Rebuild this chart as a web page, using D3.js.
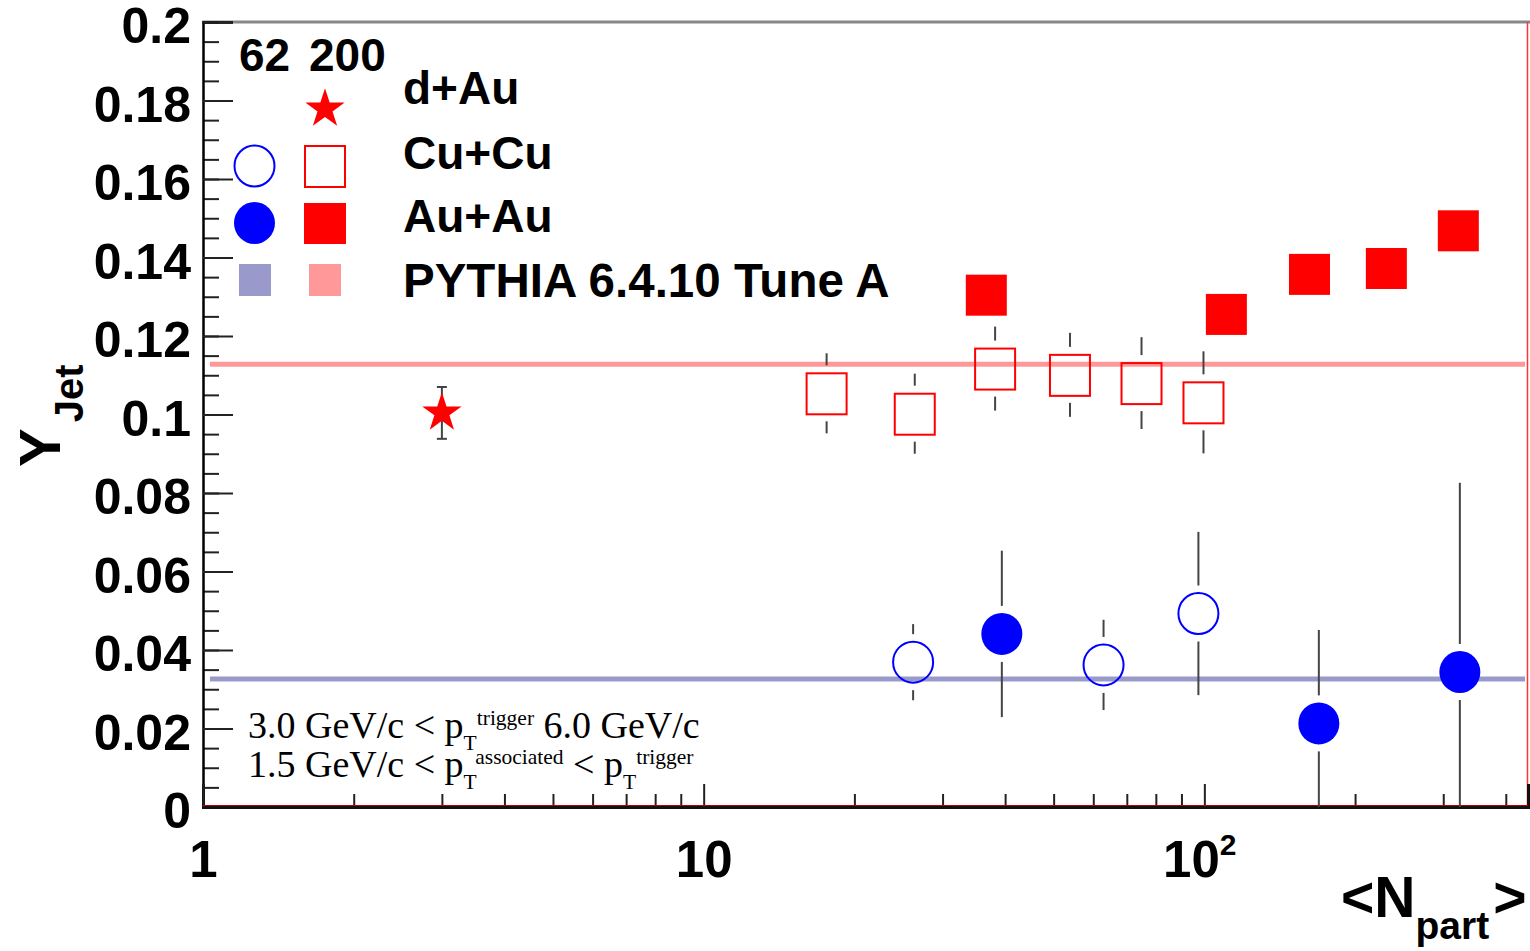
<!DOCTYPE html>
<html>
<head>
<meta charset="utf-8">
<script src="https://cdn.jsdelivr.net/npm/d3@7"></script>
<style>
  body { margin: 0; background: #fff; }
  svg { display: block; }
  text { font-family: "Liberation Sans", Arial, Helvetica, sans-serif; }
  text.serif { font-family: "Liberation Serif", "Times New Roman", serif; }
</style>
</head>
<body>
<div id="chart-area"></div>
<script>
// data: <Npart> vs Y_Jet
let cuX62 = [26.2, 62.9, 97.3]
let cuY62 = [0.0369, 0.0362, 0.0493]
let cuE62 = [0.0097, 0.0115, 0.0208]

let auX62 = [39.4, 169.3, 323.8]
let auY62 = [0.0441, 0.0213, 0.0344]
let auE62 = [0.0212, 0.0238, 0.0482]

let cuX200 = [17.6, 26.4, 38.2, 53.9, 74.9, 99.6]
let cuY200 = [0.1054, 0.1002, 0.1117, 0.1101, 0.1080, 0.1031]
let cuE200 = [0.0102, 0.0102, 0.0107, 0.0107, 0.0117, 0.0130]

let auX200 = [36.6, 110.4, 161.8, 230.4, 320.8]
let auY200 = [0.1304, 0.1255, 0.1357, 0.1372, 0.1468]

let dauX200 = [3.0]
let dauY200 = [0.1004]
let dauE200 = [0.0066]

let pythia62 = 0.0326
let pythia200 = 0.1128

let yMajor = [0, 0.02, 0.04, 0.06, 0.08, 0.1, 0.12, 0.14, 0.16, 0.18, 0.2]
let yLabels = ["0", "0.02", "0.04", "0.06", "0.08", "0.1", "0.12", "0.14", "0.16", "0.18", "0.2"]
let xMajor = [1, 10, 100]
let xLabels = ["1", "10", "10^2"]

let width = 1530
let height = 951

let svg = d3.select("#chart-area")
  .append("svg")
    .attr("width", width)
    .attr("height", height)

let x = d3.scaleLog().domain([1, 443]).range([203, 1528])
let y = d3.scaleLinear().domain([0, 0.2]).range([807, 22])

let blue = "#0000ff"
let red = "#ff0000"
let barColor = "#444"

// frame
svg.append("line")
  .attr("x1", 202).attr("x2", 1530).attr("y1", y(0.2)).attr("y2", y(0.2))
  .attr("stroke", "#888").attr("stroke-width", 3)
svg.append("line")
  .attr("x1", x(443) - 0.5).attr("x2", x(443) - 0.5).attr("y1", y(0.2)).attr("y2", y(0))
  .attr("stroke", "#f33").attr("stroke-width", 1.5)

// minor ticks
let yMinor = d3.range(0, 0.2001, 0.005)
svg.append("g")
  .attr("transform", "translate(" + x(1) + ",0)")
  .call(d3.axisLeft(y).tickValues(yMinor).tickSize(-16).tickFormat(""))
  .call(g => g.select(".domain").remove())
  .selectAll("line").attr("stroke", "#222").attr("stroke-width", 2)

let xMinor = []
for (let d = 1; d <= 100; d *= 10)
  for (let k = 2; k <= 9; k++) if (d * k <= 443) xMinor.push(d * k)
svg.append("g")
  .attr("transform", "translate(0," + y(0) + ")")
  .call(d3.axisBottom(x).tickValues(xMinor).tickSize(-13).tickFormat(""))
  .call(g => g.select(".domain").remove())
  .selectAll("line").attr("stroke", "#222").attr("stroke-width", 2)

// left axis
let leftAxis = d3.axisLeft(y).tickValues(yMajor).tickSize(-30).tickPadding(12)
  .tickFormat((d, i) => yLabels[i])
svg.append("g")
  .attr("class", "left axis")
  .attr("transform", "translate(" + x(1) + ",0)")
  .call(leftAxis)
  .call(g => g.select(".domain").attr("stroke", "#000").attr("stroke-width", 2.5))
  .call(g => g.selectAll("line").attr("stroke", "#222").attr("stroke-width", 2))
  .selectAll("text")
    .attr("font-size", "50px").attr("font-weight", "bold").attr("fill", "#000")
    .attr("dy", "0.41em")

// bottom axis
let bottomAxis = d3.axisBottom(x).tickValues(xMajor).tickSize(-23).tickPadding(34).tickFormat("")
let bx = svg.append("g")
  .attr("class", "bottom axis")
  .attr("transform", "translate(0," + y(0) + ")")
  .call(bottomAxis)
bx.select(".domain").attr("stroke", "#111").attr("stroke-width", 3)
bx.selectAll("line").attr("stroke", "#222").attr("stroke-width", 2)
bx.selectAll(".tick text")
  .attr("font-size", "51px").attr("font-weight", "bold").attr("fill", "#000")
  .each(function(d, i) {
    let t = d3.select(this)
    let parts = xLabels[i].split("^")
    t.append("tspan").text(parts[0])
    if (parts[1]) {
      t.attr("dx", "-0.1em")
      t.append("tspan").attr("font-size", "30px").attr("dy", "-22").text(parts[1])
    }
  })
svg.append("line")
  .attr("x1", x(1)).attr("x2", x(443)).attr("y1", y(0) - 1.5).attr("y2", y(0) - 1.5)
  .attr("stroke", "#b00").attr("stroke-width", 1.2)

// pythia lines
svg.append("line")
  .attr("x1", x(1) + 7).attr("x2", x(443) - 3).attr("y1", y(pythia200)).attr("y2", y(pythia200))
  .attr("stroke", "#ff9999").attr("stroke-width", 5)
svg.append("line")
  .attr("x1", x(1) + 7).attr("x2", x(443) - 3).attr("y1", y(pythia62)).attr("y2", y(pythia62))
  .attr("stroke", "#9999cc").attr("stroke-width", 5)

// error bars with a gap around the marker
function errBars(xs, ys, es, gap) {
  let g = svg.append("g")
  xs.forEach((xv, i) => {
    let cx = x(xv), cy = y(ys[i])
    let top = Math.max(y(ys[i] + es[i]), y(0.2))
    let bot = Math.min(y(ys[i] - es[i]), y(0))
    if (cy - gap > top)
      g.append("line").attr("x1", cx).attr("x2", cx).attr("y1", top).attr("y2", cy - gap)
        .attr("stroke", barColor).attr("stroke-width", 2)
    if (cy + gap < bot)
      g.append("line").attr("x1", cx).attr("x2", cx).attr("y1", cy + gap).attr("y2", bot)
        .attr("stroke", barColor).attr("stroke-width", 2)
  })
}

errBars(cuX200, cuY200, cuE200, 28)
errBars(cuX62, cuY62, cuE62, 28)
errBars(auX62, auY62, auE62, 28)

// d+Au star with capped bar
dauX200.forEach((xv, i) => {
  let cx = x(xv)
  let t = y(dauY200[i] + dauE200[i]), b = y(dauY200[i] - dauE200[i])
  svg.append("line").attr("x1", cx).attr("x2", cx).attr("y1", t).attr("y2", b)
    .attr("stroke", barColor).attr("stroke-width", 2)
  svg.append("line").attr("x1", cx - 5).attr("x2", cx + 5).attr("y1", t).attr("y2", t)
    .attr("stroke", barColor).attr("stroke-width", 2)
  svg.append("line").attr("x1", cx - 5).attr("x2", cx + 5).attr("y1", b).attr("y2", b)
    .attr("stroke", barColor).attr("stroke-width", 2)
})

let star = d3.symbol().type(d3.symbolStar).size(480)

svg.selectAll(".dau").data(dauX200).enter()
  .append("path")
    .attr("transform", (d, i) => "translate(" + x(d) + "," + y(dauY200[i]) + ")")
    .attr("d", star)
    .attr("fill", red)

svg.selectAll(".cu200").data(cuX200).enter()
  .append("rect")
    .attr("x", d => x(d) - 20)
    .attr("y", (d, i) => y(cuY200[i]) - 20)
    .attr("width", 40).attr("height", 41)
    .attr("fill", "none").attr("stroke", red).attr("stroke-width", 2)

svg.selectAll(".au200").data(auX200).enter()
  .append("rect")
    .attr("x", d => x(d) - 20)
    .attr("y", (d, i) => y(auY200[i]) - 20.5)
    .attr("width", 41).attr("height", 41)
    .attr("fill", red)

svg.selectAll(".cu62").data(cuX62).enter()
  .append("ellipse")
    .attr("cx", d => x(d))
    .attr("cy", (d, i) => y(cuY62[i]))
    .attr("rx", 20).attr("ry", 20.5)
    .attr("fill", "none").attr("stroke", blue).attr("stroke-width", 2)

svg.selectAll(".au62").data(auX62).enter()
  .append("ellipse")
    .attr("cx", d => x(d))
    .attr("cy", (d, i) => y(auY62[i]))
    .attr("rx", 20.5).attr("ry", 21)
    .attr("fill", blue)

// legend
let leg = svg.append("g").attr("font-weight", "bold").attr("font-size", "46px").attr("fill", "#000")
leg.append("text").attr("x", 239).attr("y", 71).text("62")
leg.append("text").attr("x", 309).attr("y", 71).text("200")
leg.append("text").attr("x", 403).attr("y", 104).text("d+Au")
leg.append("text").attr("x", 403).attr("y", 169).text("Cu+Cu")
leg.append("text").attr("x", 403).attr("y", 232).text("Au+Au")
leg.append("text").attr("x", 403).attr("y", 297).attr("font-size", "47.5px").text("PYTHIA 6.4.10 Tune A")

svg.append("path").attr("transform", "translate(325,109)").attr("d", star).attr("fill", red)
svg.append("ellipse").attr("cx", 254.5).attr("cy", 166).attr("rx", 20).attr("ry", 20.5)
  .attr("fill", "none").attr("stroke", blue).attr("stroke-width", 2)
svg.append("rect").attr("x", 305).attr("y", 146).attr("width", 40).attr("height", 41)
  .attr("fill", "none").attr("stroke", red).attr("stroke-width", 2)
svg.append("ellipse").attr("cx", 254.5).attr("cy", 223).attr("rx", 20.5).attr("ry", 21).attr("fill", blue)
svg.append("rect").attr("x", 304).attr("y", 203).attr("width", 42).attr("height", 41).attr("fill", red)
svg.append("rect").attr("x", 239).attr("y", 264).attr("width", 32).attr("height", 32).attr("fill", "#9999cc")
svg.append("rect").attr("x", 309).attr("y", 264).attr("width", 32).attr("height", 32).attr("fill", "#ff9999")

// kinematic cuts
let l1 = svg.append("text").attr("class", "serif").attr("x", 248).attr("y", 738)
  .attr("font-size", "38px").attr("fill", "#000")
l1.append("tspan").text("3.0 GeV/c < p")
l1.append("tspan").attr("font-size", "21.5px").attr("dy", 12).text("T")
l1.append("tspan").attr("font-size", "21.5px").attr("dy", -25).text("trigger")
l1.append("tspan").attr("dy", 13).text(" 6.0 GeV/c")
let l2 = svg.append("text").attr("class", "serif").attr("x", 248).attr("y", 777)
  .attr("font-size", "38px").attr("fill", "#000")
l2.append("tspan").text("1.5 GeV/c < p")
l2.append("tspan").attr("font-size", "21.5px").attr("dy", 12).text("T")
l2.append("tspan").attr("font-size", "21.5px").attr("dy", -25).text("associated")
l2.append("tspan").attr("dy", 13).text(" < p")
l2.append("tspan").attr("font-size", "21.5px").attr("dy", 12).text("T")
l2.append("tspan").attr("font-size", "21.5px").attr("dy", -25).text("trigger")

// axis titles
let xt = svg.append("text").attr("x", 1341).attr("y", 917)
  .attr("font-weight", "bold").attr("font-size", "57px").attr("fill", "#000")
xt.append("tspan").text("<N")
xt.append("tspan").attr("font-size", "39px").attr("dy", 22).text("part")
xt.append("tspan").attr("dy", -22).attr("dx", 4).text(">")

let yt = svg.append("text").attr("transform", "translate(60,467) rotate(-90)")
  .attr("font-weight", "bold").attr("font-size", "58px").attr("fill", "#000")
yt.append("tspan").text("Y")
yt.append("tspan").attr("font-size", "40px").attr("dy", 23).attr("dx", 6).text("Jet")
</script>
</body>
</html>
